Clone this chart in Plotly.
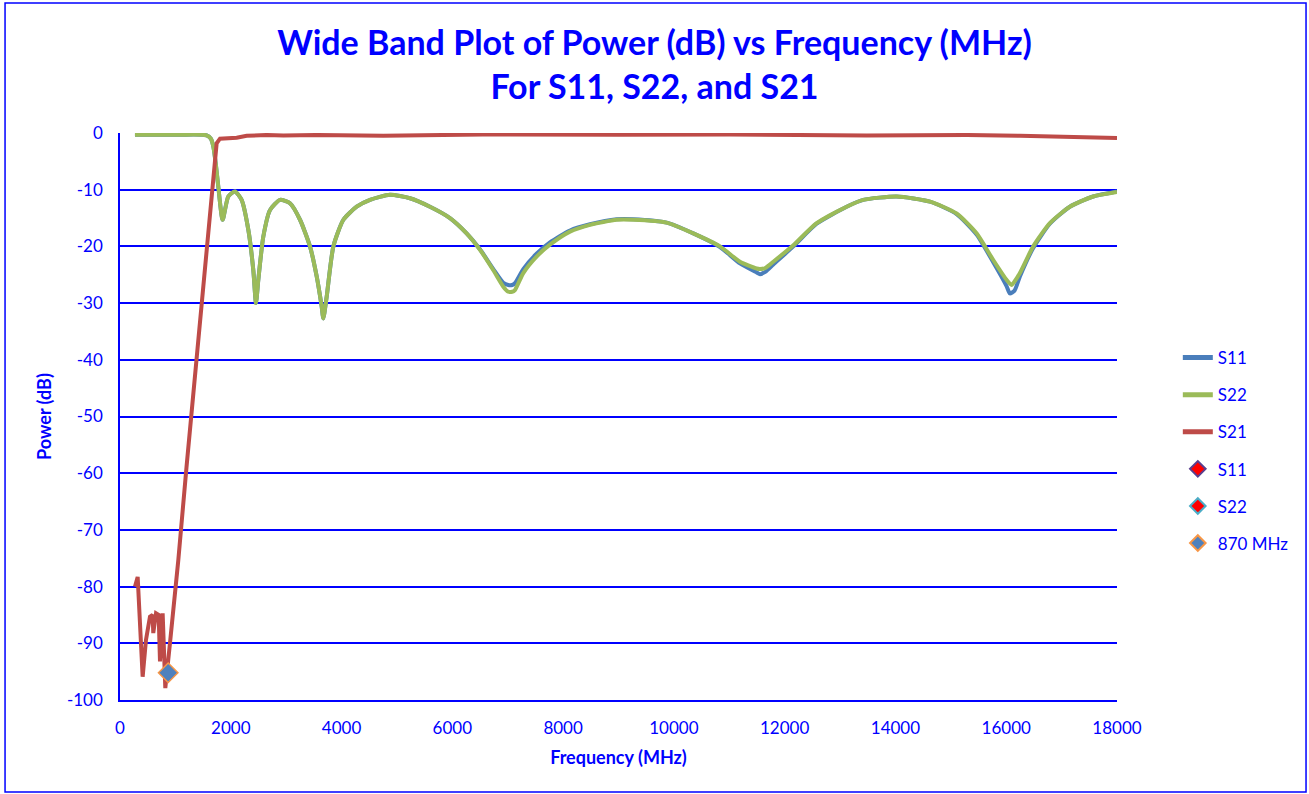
import plotly.graph_objects as go

# ---------------- data ----------------
s11_freq = [270, 1083, 1565, 1640, 1685, 1730, 1775, 1853, 1955, 2076, 2196, 2317, 2407, 2455, 2497,
            2587, 2708, 2889, 3069, 3250, 3430, 3551, 3641, 3671, 3731, 3852, 4033, 4273, 4514, 4874,
            5235, 5596, 5957, 6258, 6499, 6740, 6920, 7010, 7080, 7130, 7281, 7521, 7763, 8124, 8485,
            8966, 9267, 9868, 10350, 10832, 11193, 11494, 11554, 11650, 11795, 12156, 12577, 13119,
            13419, 14021, 14623, 15104, 15465, 15766, 16006, 16066, 16150, 16247, 16487, 16788, 17149,
            17570, 18000]
s11_db = [-0.3, -0.3, -0.4, -1.0, -2.4, -5.5, -9.5, -15.3, -11.2, -10.3, -11.8, -17.1, -24.2, -30.0, -25.9,
          -18.3, -13.6, -11.8, -12.4, -15.3, -20.0, -25.3, -30.6, -32.7, -28.9, -20.0, -15.3, -13.0, -11.8, -10.9,
          -11.5, -13.0, -15.0, -17.7, -20.5, -24.0, -26.4, -26.8, -26.8, -26.5, -24.0, -21.3, -19.3, -17.2, -16.1,
          -15.2, -15.2, -15.8, -17.7, -20.1, -23.0, -24.6, -24.9, -24.5, -23.2, -20.0, -16.0, -13.0,
          -11.8, -11.2, -12.1, -14.3, -17.9, -22.8, -27.0, -28.3, -27.8, -25.3, -20.3, -16.0, -13.0,
          -11.2, -10.3]

s22_freq = [270, 1083, 1565, 1640, 1685, 1730, 1775, 1853, 1955, 2076, 2196, 2317, 2407, 2455, 2497,
            2587, 2708, 2889, 3069, 3250, 3430, 3551, 3641, 3671, 3731, 3852, 4033, 4273, 4514, 4874,
            5235, 5596, 5957, 6258, 6499, 6740, 6920, 7010, 7080, 7130, 7281, 7521, 7763, 8124, 8485,
            8966, 9267, 9868, 10350, 10832, 11193, 11494, 11554, 11650, 11795, 12156, 12577, 13119,
            13419, 14021, 14623, 15104, 15465, 15766, 16006, 16096, 16150, 16247, 16487, 16788, 17149,
            17570, 18000]
s22_db = [-0.3, -0.3, -0.4, -1.0, -2.4, -5.5, -9.5, -15.3, -11.2, -10.3, -11.8, -17.1, -24.2, -30.0, -25.9,
          -18.3, -13.6, -11.8, -12.4, -15.3, -20.0, -25.3, -30.6, -32.7, -28.9, -20.0, -15.3, -13.0, -11.8, -10.9,
          -11.5, -13.0, -15.0, -17.7, -20.6, -24.2, -27.1, -28.0, -28.0, -27.7, -24.7, -21.8, -19.7, -17.4, -16.2,
          -15.3, -15.3, -15.8, -17.7, -20.0, -22.7, -23.9, -24.0, -23.8, -22.7, -19.8, -15.9, -13.0,
          -11.8, -11.2, -12.1, -14.2, -17.7, -22.4, -25.9, -26.8, -26.2, -24.7, -20.0, -15.9, -13.0,
          -11.2, -10.4]

s21_freq = [271, 319, 409, 469, 541, 589, 601, 650, 698, 722, 770, 818, 902, 1053, 1200, 1444, 1600,
            1685, 1715, 1745, 1805, 1925, 2040, 2106, 2287, 2648, 2949, 3550, 4753, 6550, 9000, 11000,
            13480, 15285, 16247, 17000, 18000]
s21_db = [-80.0, -78.3, -95.9, -89.4, -85.3, -85.0, -88.2, -84.7, -85.0, -93.2, -84.7, -97.9, -90.0,
          -75.3, -59.0, -33.0, -16.0, -6.5, -3.5, -1.8, -1.0, -0.9, -0.9, -0.85, -0.5, -0.35, -0.45,
          -0.35, -0.5, -0.25, -0.3, -0.25, -0.45, -0.35, -0.5, -0.65, -0.9]

marker_freq = [870]
marker_db = [-95.2]

x_ticks = [0, 2000, 4000, 6000, 8000, 10000, 12000, 14000, 16000, 18000]
y_ticks = [0, -10, -20, -30, -40, -50, -60, -70, -80, -90, -100]

# ---------------- figure ----------------
BLUE = "#0000ff"
TXT = "Lato"

fig = go.Figure()
fig.add_trace(go.Scatter(x=s11_freq, y=s11_db, mode="lines", name="S11", legendgroup="a",
                         line=dict(color="#4a7ebb", width=4, shape="spline", smoothing=0.6)))
fig.add_trace(go.Scatter(x=s22_freq, y=s22_db, mode="lines", name="S22", legendgroup="b",
                         line=dict(color="#9bbb59", width=4, shape="spline", smoothing=0.6)))
fig.add_trace(go.Scatter(x=s21_freq, y=s21_db, mode="lines", name="S21", legendgroup="c",
                         line=dict(color="#be4b48", width=4)))
# point markers for S11 / S22 sit underneath the 870 MHz marker
fig.add_trace(go.Scatter(x=marker_freq, y=marker_db, mode="markers", name="S11", legendgroup="d",
                         marker=dict(symbol="diamond", size=9, color="#ff0000",
                                     line=dict(color="#5a3f8f", width=1.5))))
fig.add_trace(go.Scatter(x=marker_freq, y=marker_db, mode="markers", name="S22", legendgroup="e",
                         marker=dict(symbol="diamond", size=9, color="#ff0000",
                                     line=dict(color="#4bacc6", width=1.5))))
fig.add_trace(go.Scatter(x=marker_freq, y=marker_db, mode="markers", name="870 MHz", legendgroup="f",
                         marker=dict(symbol="diamond", size=15, color="#4f81bd",
                                     line=dict(color="#f79646", width=1.5))))

fig.update_layout(
    width=1309, height=794,
    paper_bgcolor="white", plot_bgcolor="white",
    margin=dict(l=120, r=192, t=133, b=94),
    title=dict(text="Wide Band Plot of Power (dB) vs Frequency (MHz)<br>For S11, S22, and S21",
               x=0.5, xref="container", xanchor="center", yref="container", y=0.931, yanchor="top",
               font=dict(family=TXT, size=34, color=BLUE, weight="bold")),
    xaxis=dict(range=[0, 18000], tickvals=x_ticks, ticktext=[str(v) for v in x_ticks],
               showgrid=False, zeroline=False, showline=True, linecolor=BLUE, linewidth=1.5,
               ticks="", ticklabelstandoff=12, tickfont=dict(family=TXT, size=17, color=BLUE),
               title=dict(text="Frequency (MHz)", font=dict(family=TXT, size=18, color=BLUE, weight="bold"),
                          standoff=14)),
    yaxis=dict(range=[-100, 0], tickvals=y_ticks, ticktext=[str(v) for v in y_ticks],
               showgrid=True, gridcolor=BLUE, gridwidth=1.5, zeroline=False,
               showline=True, linecolor=BLUE, linewidth=1.5, ticks="", ticklabelstandoff=12,
               tickfont=dict(family=TXT, size=17, color=BLUE),
               title=dict(text="Power (dB)", font=dict(family=TXT, size=18, color=BLUE, weight="bold"),
                          standoff=11)),
    legend=dict(x=1.061, xanchor="left", y=0.44, yanchor="middle",
                font=dict(family=TXT, size=17, color=BLUE),
                traceorder="grouped", tracegroupgap=12, itemsizing="constant",
                bgcolor="rgba(0,0,0,0)"),
    shapes=[dict(type="rect", xref="paper", yref="paper",
                 x0=-0.1153, x1=1.1896, y0=-0.1623, y1=1.2293,
                 line=dict(color=BLUE, width=1.5), fillcolor="rgba(0,0,0,0)", layer="below")],
)

fig.write_html("out.html", config={"displayModeBar": False},
               post_script="document.body.style.margin='0';")
